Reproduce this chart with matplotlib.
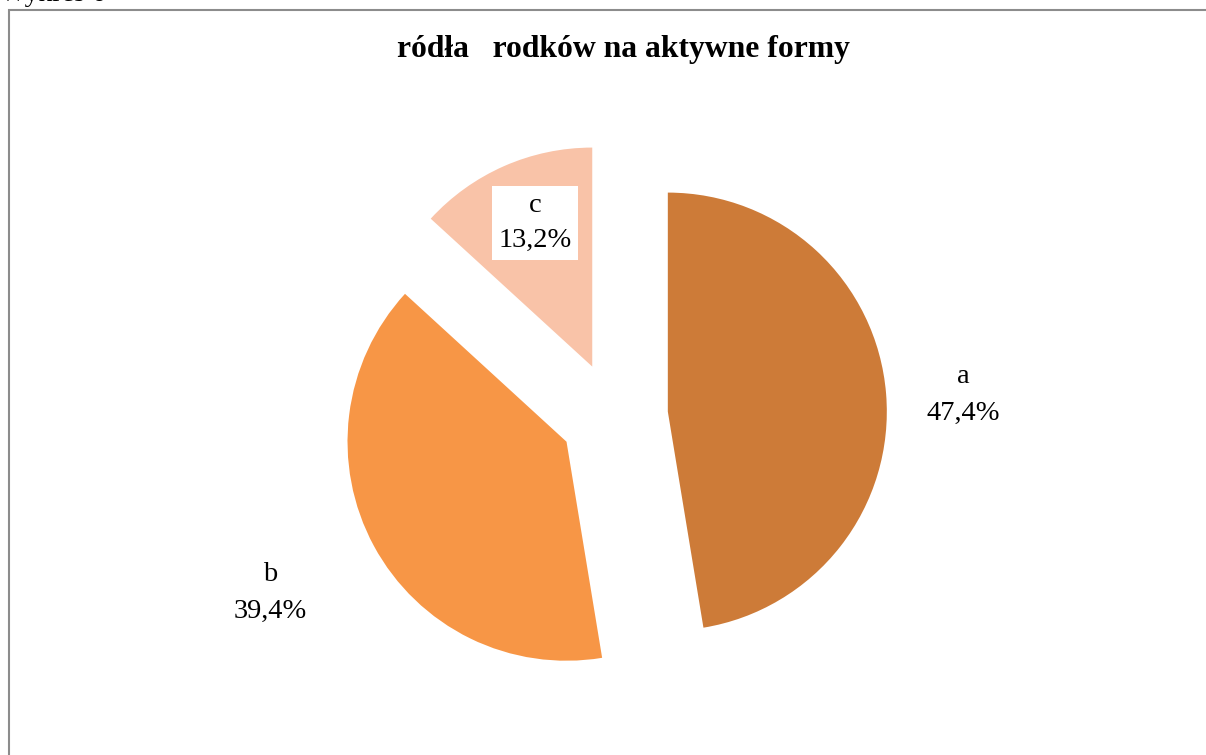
import matplotlib.pyplot as plt
from matplotlib.patches import Rectangle

labels = ['a', 'b', 'c']
shares = [47.4, 39.4, 13.2]
colors = ['#CD7B38', '#F79646', '#F9C3A8']

title = 'ródła   rodków na aktywne formy'
caption = 'Wykres 6'

plt.rcParams['font.family'] = ['Liberation Serif', 'DejaVu Serif']

fig = plt.figure(figsize=(12.06, 7.55), dpi=100)

# axes in pixel units, y pointing up
ax = fig.add_axes([0, 0, 1, 1])
ax.axis('off')

# explode is in data units here (pixels)
wedges, _ = ax.pie(shares, colors=colors, startangle=90, counterclock=False,
                   radius=219, center=(614, 755 - 416), explode=[54, 54, 54],
                   wedgeprops=dict(linewidth=0))
ax.set_xlim(0, 1206)
ax.set_ylim(0, 755)
ax.set_aspect('auto')

def fmt(lab, v):
    return f'{lab}\n{v:.1f}%'.replace('.', ',')

# data labels
ax.text(963, 755 - 395, fmt(labels[0], shares[0]),
        ha='center', va='center', fontsize=20.5, linespacing=1.6)
ax.text(270, 755 - 593, fmt(labels[1], shares[1]),
        ha='center', va='center', fontsize=20.5, linespacing=1.6)
ax.text(535, 755 - 223, fmt(labels[2], shares[2]),
        ha='center', va='center', fontsize=20.5, linespacing=1.5,
        bbox=dict(facecolor='white', edgecolor='none', pad=5))

# title
ax.text(623, 755 - 50, title, ha='center', va='center',
        fontsize=22.8, fontweight='bold')

# chart frame, cut by the right and bottom edge
ax.add_patch(Rectangle((9, -10), 1250, 755, fill=False,
                       edgecolor='#8C8C8C', linewidth=1.5, clip_on=False))

# caption above the frame, clipped at the top
fig.text(0, 755 - 1, caption, fontsize=20, ha='left', va='baseline',
         transform=None)

fig.savefig('out.png', dpi=100)
